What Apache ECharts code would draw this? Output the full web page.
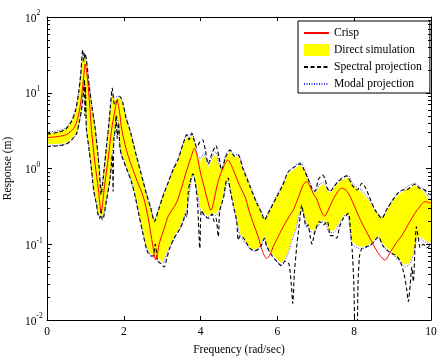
<!DOCTYPE html>
<html>
<head>
<meta charset="utf-8">
<script src="https://cdn.jsdelivr.net/npm/echarts@6/dist/echarts.min.js"></script>
<style>
  html, body { margin: 0; padding: 0; background: #fff; }
  #chart { width: 437px; height: 356px; }
</style>
</head>
<body>
<div id="chart"></div>
<script>
// Frequency response of the system: crisp response, direct-simulation band,
// spectral projection bounds and modal projection bounds. [frequency, response]
const crisp = [
  [0, 2.55], [0.3, 2.65], [0.5, 2.8], [0.7, 3.4], [0.8, 4.6], [0.86, 6.5], [0.92, 11], [0.96, 17],
  [0.99, 24], [1.02, 21], [1.075, 12], [1.16, 3.2], [1.25, 1.17], [1.34, 0.52], [1.41, 0.27],
  [1.5, 0.6], [1.6, 1.43], [1.68, 3.2], [1.77, 5.9], [1.82, 8], [1.88, 6], [1.95, 3.2], [2.03, 2.1],
  [2.12, 1.43], [2.34, 0.7], [2.51, 0.42], [2.63, 0.23], [2.76, 0.093], [2.83, 0.062], [2.93, 0.105],
  [3.05, 0.16], [3.15, 0.23], [3.38, 0.36], [3.5, 0.55], [3.64, 0.95], [3.75, 1.4], [3.84, 1.85],
  [3.92, 1.4], [3.98, 0.96], [4.08, 0.6], [4.16, 0.42], [4.27, 0.28], [4.35, 0.38], [4.42, 0.57],
  [4.52, 0.85], [4.6, 1.06], [4.71, 1.3], [4.85, 0.96], [5.0, 0.62], [5.16, 0.42], [5.26, 0.28],
  [5.37, 0.19], [5.5, 0.126], [5.6, 0.084], [5.72, 0.065], [5.8, 0.072], [5.9, 0.095], [6.0, 0.12],
  [6.15, 0.17], [6.3, 0.23], [6.41, 0.28], [6.55, 0.42], [6.68, 0.62], [6.76, 0.67], [6.85, 0.58],
  [6.95, 0.45], [7.02, 0.4], [7.12, 0.29], [7.23, 0.235], [7.32, 0.28], [7.46, 0.4], [7.58, 0.5],
  [7.67, 0.55], [7.76, 0.53], [7.85, 0.47], [7.95, 0.37], [8.1, 0.245], [8.25, 0.17], [8.46, 0.108],
  [8.6, 0.08], [8.8, 0.062], [8.95, 0.08], [9.1, 0.105], [9.24, 0.13], [9.4, 0.18], [9.58, 0.256],
  [9.72, 0.32], [9.84, 0.365], [10, 0.35]
];

const directUpper = [
  [0, 2.95], [0.3, 3.05], [0.5, 3.4], [0.65, 4.3], [0.75, 5.9], [0.83, 10], [0.88, 17], [0.92, 28],
  [0.96, 30], [1.0, 30], [1.04, 24], [1.1, 12], [1.18, 6], [1.25, 3.4], [1.32, 1.6], [1.36, 1.0],
  [1.41, 0.48], [1.47, 0.8], [1.55, 1.9], [1.6, 3.2], [1.65, 6], [1.7, 9.5], [1.76, 8], [1.84, 8.5],
  [1.9, 8.5], [1.98, 7], [2.06, 4.5], [2.16, 3.1], [2.33, 1.4], [2.45, 0.85], [2.59, 0.45],
  [2.7, 0.29], [2.8, 0.2], [2.9, 0.28], [3.0, 0.4], [3.15, 0.63], [3.3, 1.0], [3.41, 1.3],
  [3.55, 2.1], [3.64, 2.6], [3.7, 2.4], [3.77, 2.8], [3.84, 2.2], [3.92, 1.4], [4.0, 1.25],
  [4.08, 1.5], [4.2, 1.05], [4.32, 1.4], [4.4, 1.55], [4.5, 1.0], [4.55, 0.95], [4.65, 1.4],
  [4.77, 1.65], [4.88, 1.4], [4.98, 1.45], [5.1, 1.0], [5.29, 0.56], [5.45, 0.36], [5.6, 0.25],
  [5.66, 0.21], [5.8, 0.28], [5.98, 0.42], [6.15, 0.62], [6.28, 0.85], [6.45, 1.0], [6.6, 1.12],
  [6.7, 0.95], [6.8, 0.72], [6.9, 0.52], [6.98, 0.47], [7.1, 0.58], [7.2, 0.62], [7.3, 0.52],
  [7.37, 0.47], [7.5, 0.58], [7.65, 0.7], [7.85, 0.76], [7.95, 0.62], [8.1, 0.52], [8.2, 0.49],
  [8.4, 0.36], [8.55, 0.27], [8.72, 0.22], [8.85, 0.28], [9.0, 0.37], [9.15, 0.45], [9.35, 0.53],
  [9.58, 0.6], [9.7, 0.55], [9.8, 0.5], [9.9, 0.42], [10, 0.37]
];

const directLower = [
  [0, 2.1], [0.3, 2.1], [0.5, 2.2], [0.65, 2.5], [0.77, 3.0], [0.85, 4.5], [0.9, 6.5], [0.95, 11],
  [0.98, 14], [1.01, 7], [1.03, 3.5], [1.1, 1.8], [1.16, 1.0], [1.22, 0.55], [1.29, 0.36],
  [1.34, 0.25], [1.41, 0.24], [1.47, 0.25], [1.55, 0.4], [1.64, 0.75], [1.73, 2.2], [1.77, 3.2],
  [1.82, 5], [1.86, 4], [1.9, 1.94], [1.94, 1.6], [2.07, 1.06], [2.2, 0.7], [2.29, 0.47], [2.37, 0.3],
  [2.47, 0.17], [2.59, 0.093], [2.7, 0.075], [2.8, 0.07], [2.9, 0.065], [3.02, 0.058], [3.1, 0.075],
  [3.2, 0.095], [3.33, 0.13], [3.46, 0.17], [3.55, 0.22], [3.64, 0.3], [3.72, 0.55], [3.8, 0.9],
  [3.86, 0.7], [3.93, 0.45], [4.0, 0.3], [4.1, 0.25], [4.2, 0.24], [4.3, 0.26], [4.4, 0.25],
  [4.5, 0.3], [4.6, 0.45], [4.7, 0.72], [4.76, 0.6], [4.85, 0.35], [4.94, 0.21], [5.03, 0.14],
  [5.15, 0.11], [5.29, 0.09], [5.4, 0.085], [5.5, 0.09], [5.6, 0.11], [5.66, 0.13], [5.72, 0.1],
  [5.85, 0.076], [6.0, 0.062], [6.11, 0.056], [6.2, 0.065], [6.3, 0.085], [6.37, 0.114], [6.5, 0.18],
  [6.59, 0.28], [6.65, 0.29], [6.75, 0.2], [6.85, 0.16], [6.94, 0.15], [7.05, 0.18], [7.15, 0.21],
  [7.25, 0.2], [7.33, 0.155], [7.46, 0.15], [7.6, 0.19], [7.76, 0.25], [7.85, 0.24], [7.93, 0.11],
  [8.07, 0.095], [8.2, 0.093], [8.37, 0.098], [8.5, 0.11], [8.63, 0.13], [8.75, 0.1], [8.9, 0.085],
  [8.98, 0.08], [9.15, 0.065], [9.32, 0.053], [9.45, 0.058], [9.55, 0.08], [9.65, 0.13], [9.76, 0.12],
  [9.89, 0.11], [10, 0.105]
];

const spectralUpper = [
  [0, 2.85], [0.3, 3.0], [0.5, 3.35], [0.65, 4.3], [0.75, 6], [0.83, 10.5], [0.88, 18], [0.93, 37],
  [0.96, 26], [0.99, 33], [1.03, 26], [1.1, 12], [1.18, 6], [1.25, 3.5], [1.32, 1.65], [1.36, 1.0],
  [1.41, 0.45], [1.47, 0.8], [1.55, 2.0], [1.6, 3.4], [1.65, 6.5], [1.7, 11.5], [1.76, 7], [1.84, 8],
  [1.9, 8.9], [1.98, 7.2], [2.06, 4.6], [2.16, 3.2], [2.33, 1.45], [2.45, 0.85], [2.59, 0.46],
  [2.7, 0.3], [2.8, 0.2], [2.9, 0.28], [3.0, 0.4], [3.15, 0.64], [3.3, 1.0], [3.41, 1.3],
  [3.55, 2.15], [3.64, 2.8], [3.7, 2.4], [3.77, 2.9], [3.84, 2.3], [3.9, 1.9], [3.97, 2.2],
  [4.05, 2.4], [4.12, 1.8], [4.2, 1.15], [4.3, 1.6], [4.4, 2.0], [4.48, 1.4], [4.55, 0.95],
  [4.65, 1.4], [4.77, 1.75], [4.88, 1.45], [4.98, 1.5], [5.1, 1.0], [5.29, 0.57], [5.45, 0.36],
  [5.6, 0.25], [5.66, 0.21], [5.8, 0.28], [5.98, 0.42], [6.15, 0.62], [6.28, 0.9], [6.45, 1.05],
  [6.59, 1.15], [6.7, 0.95], [6.8, 0.72], [6.9, 0.55], [6.98, 0.5], [7.07, 0.72], [7.18, 0.82],
  [7.25, 0.7], [7.3, 0.55], [7.37, 0.5], [7.5, 0.6], [7.65, 0.72], [7.8, 0.8], [7.95, 0.6],
  [8.08, 0.52], [8.2, 0.64], [8.3, 0.55], [8.45, 0.36], [8.55, 0.28], [8.72, 0.22], [8.85, 0.29],
  [9.0, 0.38], [9.15, 0.48], [9.25, 0.52], [9.35, 0.52], [9.58, 0.62], [9.7, 0.55], [9.84, 0.52],
  [9.92, 0.47], [10, 0.45]
];

const spectralLower = [
  [0, 1.95], [0.3, 2.0], [0.5, 2.1], [0.65, 2.4], [0.77, 2.9], [0.85, 4.3], [0.9, 6], [0.95, 10],
  [0.975, 15], [0.985, 5], [1.0, 12], [1.02, 4], [1.03, 3.2], [1.1, 1.7], [1.16, 0.95], [1.22, 0.5],
  [1.29, 0.33], [1.34, 0.23], [1.38, 0.22], [1.41, 0.3], [1.44, 0.21], [1.47, 0.22], [1.55, 0.38],
  [1.64, 0.72], [1.7, 1.5], [1.72, 0.5], [1.74, 2.4], [1.77, 3.1], [1.8, 5.0], [1.83, 2.5],
  [1.86, 4.0], [1.9, 1.9], [1.94, 1.5], [2.07, 1.0], [2.2, 0.66], [2.29, 0.44], [2.37, 0.28],
  [2.47, 0.16], [2.59, 0.088], [2.64, 0.075], [2.7, 0.07], [2.76, 0.07], [2.82, 0.1], [2.88, 0.06],
  [2.95, 0.056], [3.05, 0.05], [3.12, 0.065], [3.2, 0.09], [3.33, 0.125], [3.46, 0.16], [3.55, 0.2],
  [3.6, 0.25], [3.64, 0.23], [3.68, 0.5], [3.72, 0.65], [3.8, 0.85], [3.86, 0.65], [3.92, 0.35],
  [3.98, 0.088], [4.02, 0.28], [4.1, 0.24], [4.2, 0.22], [4.3, 0.25], [4.35, 0.2], [4.4, 0.22],
  [4.46, 0.126], [4.5, 0.28], [4.6, 0.42], [4.67, 0.7], [4.72, 0.75], [4.76, 0.55], [4.85, 0.33],
  [4.94, 0.2], [4.98, 0.114], [5.03, 0.13], [5.12, 0.12], [5.29, 0.088], [5.4, 0.082], [5.5, 0.086],
  [5.6, 0.1], [5.66, 0.12], [5.72, 0.095], [5.85, 0.072], [6.0, 0.058], [6.1, 0.052], [6.2, 0.06],
  [6.3, 0.055], [6.36, 0.03], [6.4, 0.0165], [6.44, 0.04], [6.5, 0.09], [6.55, 0.15], [6.6, 0.25],
  [6.63, 0.33], [6.68, 0.25], [6.75, 0.17], [6.8, 0.18], [6.85, 0.13], [6.9, 0.1], [6.94, 0.12],
  [7.0, 0.16], [7.1, 0.2], [7.2, 0.18], [7.3, 0.2], [7.38, 0.13], [7.45, 0.13], [7.54, 0.12],
  [7.62, 0.17], [7.72, 0.22], [7.85, 0.256], [7.9, 0.16], [7.95, 0.08], [7.99, 0.03], [8.03, 0.006],
  [8.07, 0.006], [8.1, 0.03], [8.14, 0.07], [8.2, 0.088], [8.3, 0.092], [8.45, 0.1], [8.63, 0.125],
  [8.75, 0.095], [8.9, 0.08], [9.0, 0.075], [9.1, 0.07], [9.2, 0.06], [9.3, 0.04], [9.37, 0.025],
  [9.41, 0.0175], [9.46, 0.03], [9.5, 0.05], [9.54, 0.032], [9.58, 0.08], [9.62, 0.17], [9.67, 0.12],
  [9.72, 0.09], [9.8, 0.1], [9.9, 0.09], [10, 0.1]
];

const modalUpper = [
  [0, 3.05], [0.3, 3.15], [0.5, 3.5], [0.65, 4.5], [0.75, 6.2], [0.83, 10.5], [0.88, 18], [0.92, 29],
  [0.96, 33], [1.0, 32], [1.04, 25], [1.1, 13], [1.18, 6.3], [1.25, 3.6], [1.32, 1.7], [1.36, 1.05],
  [1.41, 0.52], [1.47, 0.85], [1.55, 2.0], [1.6, 3.4], [1.65, 6.3], [1.7, 9.8], [1.76, 8.5], [1.84, 9],
  [1.9, 8.9], [1.97, 7.4], [2.06, 4.8], [2.16, 3.3], [2.33, 1.5], [2.45, 0.9], [2.59, 0.48],
  [2.7, 0.31], [2.8, 0.21], [2.9, 0.29], [3.0, 0.42], [3.15, 0.66], [3.3, 1.05], [3.41, 1.35],
  [3.55, 2.2], [3.64, 2.8], [3.7, 2.55], [3.77, 3.0], [3.84, 2.35], [3.92, 1.5], [4.0, 1.35],
  [4.08, 1.6], [4.2, 1.12], [4.32, 1.5], [4.4, 1.65], [4.5, 1.05], [4.55, 1.0], [4.65, 1.5],
  [4.77, 1.8], [4.88, 1.5], [4.98, 1.55], [5.1, 1.05], [5.29, 0.6], [5.45, 0.38], [5.6, 0.26],
  [5.66, 0.22], [5.8, 0.29], [5.98, 0.44], [6.15, 0.65], [6.28, 0.9], [6.45, 1.08], [6.6, 1.2],
  [6.7, 1.0], [6.8, 0.76], [6.9, 0.55], [6.98, 0.5], [7.1, 0.62], [7.2, 0.66], [7.3, 0.55],
  [7.37, 0.5], [7.5, 0.61], [7.65, 0.74], [7.85, 0.8], [7.95, 0.65], [8.1, 0.55], [8.2, 0.52],
  [8.4, 0.38], [8.55, 0.28], [8.72, 0.23], [8.85, 0.29], [9.0, 0.39], [9.15, 0.47], [9.35, 0.56],
  [9.58, 0.64], [9.7, 0.58], [9.8, 0.53], [9.9, 0.45], [10, 0.39]
];

const modalLower = [
  [0, 2.0], [0.3, 2.02], [0.5, 2.12], [0.65, 2.42], [0.77, 2.9], [0.85, 4.3], [0.9, 6.2], [0.95, 10.5],
  [0.98, 13.5], [1.01, 6.6], [1.03, 3.3], [1.1, 1.7], [1.16, 0.95], [1.22, 0.52], [1.29, 0.34],
  [1.34, 0.24], [1.41, 0.23], [1.47, 0.24], [1.55, 0.39], [1.64, 0.72], [1.73, 2.1], [1.77, 3.1],
  [1.82, 4.8], [1.86, 3.9], [1.9, 1.9], [1.94, 1.55], [2.07, 1.02], [2.2, 0.68], [2.29, 0.45],
  [2.37, 0.29], [2.47, 0.165], [2.59, 0.09], [2.7, 0.072], [2.8, 0.067], [2.9, 0.062], [3.02, 0.055],
  [3.1, 0.071], [3.2, 0.09], [3.33, 0.124], [3.46, 0.16], [3.55, 0.21], [3.64, 0.28], [3.72, 0.52],
  [3.8, 0.86], [3.86, 0.66], [3.93, 0.43], [4.0, 0.28], [4.1, 0.24], [4.2, 0.23], [4.3, 0.25],
  [4.4, 0.24], [4.5, 0.28], [4.6, 0.43], [4.7, 0.68], [4.76, 0.57], [4.85, 0.33], [4.94, 0.2],
  [5.03, 0.13], [5.15, 0.105], [5.29, 0.086], [5.4, 0.081], [5.5, 0.086], [5.6, 0.105], [5.66, 0.124],
  [5.72, 0.095], [5.85, 0.072], [6.0, 0.059], [6.11, 0.053], [6.2, 0.062], [6.3, 0.081], [6.37, 0.108],
  [6.5, 0.17], [6.59, 0.27], [6.65, 0.28], [6.75, 0.19], [6.85, 0.15], [6.94, 0.142], [7.05, 0.17],
  [7.15, 0.2], [7.25, 0.19], [7.33, 0.148], [7.46, 0.142], [7.6, 0.18], [7.76, 0.24], [7.85, 0.23],
  [7.93, 0.105], [8.07, 0.09], [8.2, 0.088], [8.37, 0.093], [8.5, 0.105], [8.63, 0.124], [8.75, 0.095],
  [8.9, 0.081], [8.98, 0.076], [9.15, 0.062], [9.32, 0.05], [9.45, 0.055], [9.55, 0.076], [9.65, 0.124],
  [9.76, 0.114], [9.89, 0.105], [10, 0.1]
];

// Minor tick positions of the logarithmic response axis
const logMinorTicks = [
  0.02, 0.03, 0.04, 0.05, 0.06, 0.07, 0.08, 0.09,
  0.2, 0.3, 0.4, 0.5, 0.6, 0.7, 0.8, 0.9,
  2, 3, 4, 5, 6, 7, 8, 9,
  20, 30, 40, 50, 60, 70, 80, 90
];

const SERIF = "'Liberation Serif', 'Times New Roman', serif";
const X_MIN = 0, X_MAX = 10;

const chart = echarts.init(document.getElementById('chart'), null, { renderer: 'canvas' });

// Yellow envelope of the direct simulation: upper edge forward, lower edge back
function bandPolygon(params, api) {
  const pts = [];
  directUpper.forEach(p => pts.push(api.coord(p)));
  for (let i = directLower.length - 1; i >= 0; i--) pts.push(api.coord(directLower[i]));
  return {
    type: 'polygon',
    shape: { points: pts },
    style: { fill: '#ffff00', stroke: null }
  };
}

// Inward minor ticks on the left and right frame edges
function minorTick(params, api) {
  const v = api.value(1);
  const l = api.coord([X_MIN, v]);
  const r = api.coord([X_MAX, v]);
  const y = Math.round(l[1]) + 0.5;
  return {
    type: 'group',
    children: [
      { type: 'line', shape: { x1: l[0], y1: y, x2: l[0] + 3, y2: y }, style: { stroke: '#000', lineWidth: 1 } },
      { type: 'line', shape: { x1: r[0], y1: y, x2: r[0] - 3, y2: y }, style: { stroke: '#000', lineWidth: 1 } }
    ]
  };
}

const lineBase = { type: 'line', symbol: 'none', showSymbol: false, animation: false };

const axisCommonX = {
  type: 'value', min: X_MIN, max: X_MAX, interval: 2, z: 10,
  axisLine: { show: true, onZero: false, lineStyle: { color: '#000', width: 1 } },
  axisTick: { show: true, inside: true, length: 4, lineStyle: { color: '#000' } },
  splitLine: { show: false }
};
const axisCommonY = {
  type: 'log', logBase: 10, min: 0.01, max: 100, splitNumber: 4, z: 10,
  axisLine: { show: true, onZero: false, lineStyle: { color: '#000', width: 1 } },
  axisTick: { show: true, inside: true, length: 5, lineStyle: { color: '#000' } },
  splitLine: { show: false }
};

chart.setOption({
  backgroundColor: '#fff',
  animation: false,
  textStyle: { fontFamily: SERIF },
  grid: { left: 47, right: 6, top: 17, bottom: 36, containLabel: false, outerBoundsMode: 'none' },
  legend: {
    left: 298, top: 21, orient: 'vertical',
    padding: [6, 8, 3, 5],
    itemWidth: 25, itemHeight: 12, itemGap: 5,
    backgroundColor: '#fff', borderColor: '#000', borderWidth: 1, borderRadius: 0,
    selectedMode: false,
    itemStyle: { opacity: 0 },
    textStyle: { fontFamily: SERIF, fontSize: 11.6, color: '#000' },
    data: [
      'Crisp',
      { name: 'Direct simulation', icon: 'rect', itemStyle: { opacity: 1, color: '#ffff00' } },
      'Spectral projection',
      'Modal projection'
    ]
  },
  xAxis: [
    Object.assign({}, axisCommonX, {
      position: 'bottom',
      name: 'Frequency (rad/sec)', nameLocation: 'middle', nameGap: 24,
      nameTextStyle: { fontFamily: SERIF, fontSize: 11.5, color: '#000' },
      axisLabel: { show: true, margin: 6, fontFamily: SERIF, fontSize: 11.5, color: '#000' }
    }),
    Object.assign({}, axisCommonX, { position: 'top', axisLabel: { show: false } })
  ],
  yAxis: [
    Object.assign({}, axisCommonY, {
      position: 'left',
      name: 'Response (m)', nameLocation: 'middle', nameGap: 22, nameRotate: 90,
      nameTextStyle: { fontFamily: SERIF, fontSize: 11.5, color: '#000' },
      axisLabel: {
        show: true, margin: 22, align: 'left',
        formatter: v => '{b|10}{s|' + Math.round(Math.log10(v)) + '}',
        rich: {
          b: { fontFamily: SERIF, fontSize: 11.5, color: '#000', lineHeight: 15, verticalAlign: 'bottom' },
          s: { fontFamily: SERIF, fontSize: 7.5, color: '#000', lineHeight: 15, verticalAlign: 'top' }
        }
      }
    }),
    Object.assign({}, axisCommonY, { position: 'right', axisLabel: { show: false } })
  ],
  series: [
    {
      name: 'Direct simulation', type: 'custom', renderItem: bandPolygon,
      data: [[0, 1]], encode: { x: 0, y: 1 }, clip: true, z: 1, silent: true,
      itemStyle: { color: '#ffff00' }
    },
    Object.assign({}, lineBase, {
      name: 'Modal projection', data: modalUpper, z: 2, smooth: 0.25,
      itemStyle: { color: '#3c3cff' },
      lineStyle: { color: '#3c3cff', width: 1, type: [1, 1.5] }
    }),
    Object.assign({}, lineBase, {
      name: 'Modal projection', data: modalLower, z: 2, smooth: 0.25,
      itemStyle: { color: '#3c3cff' },
      lineStyle: { color: '#3c3cff', width: 1, type: [1, 1.5] }
    }),
    Object.assign({}, lineBase, {
      name: 'Spectral projection', data: spectralUpper, z: 3, smooth: 0.25,
      itemStyle: { color: '#000' },
      lineStyle: { color: '#000', width: 1.1, type: [4, 2.5] }
    }),
    Object.assign({}, lineBase, {
      name: 'Spectral projection', data: spectralLower, z: 3, smooth: 0.25,
      itemStyle: { color: '#000' },
      lineStyle: { color: '#000', width: 1.1, type: [4, 2.5] }
    }),
    Object.assign({}, lineBase, {
      name: 'Crisp', data: crisp, z: 4, smooth: 0.3,
      itemStyle: { color: '#ff0000' },
      lineStyle: { color: '#ff0000', width: 1 }
    }),
    {
      type: 'custom', renderItem: minorTick, silent: true, clip: false, z: 5,
      data: logMinorTicks.map(v => [X_MIN, v]), encode: { x: 0, y: 1 }
    }
  ]
});
</script>
</body>
</html>
